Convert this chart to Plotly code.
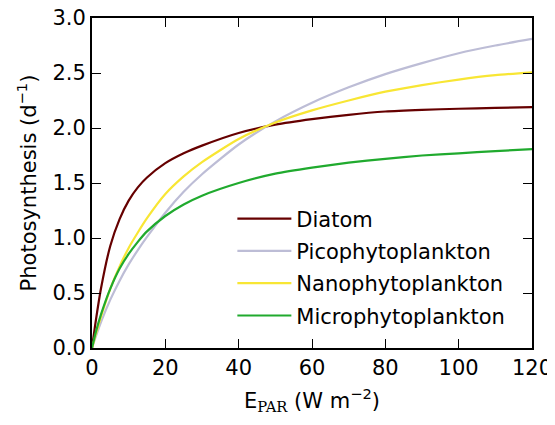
import plotly.graph_objects as go

# Irradiance (W m^-2)
e_par = [0, 1, 2.5, 5, 7.5, 10, 12.5, 15, 20, 25, 30, 40, 50, 60, 70, 80, 90, 100, 110, 120]

# Photosynthesis rates (d^-1)
diatom = [0, 0.24, 0.55, 0.93, 1.17, 1.34, 1.46, 1.55, 1.68, 1.77, 1.84, 1.955, 2.03, 2.08, 2.12, 2.15, 2.165, 2.175, 2.183, 2.19]
pico = [0, 0.10, 0.24, 0.44, 0.61, 0.76, 0.89, 1.01, 1.23, 1.42, 1.58, 1.85, 2.06, 2.23, 2.37, 2.49, 2.59, 2.68, 2.75, 2.81]
nano = [0, 0.12, 0.29, 0.54, 0.74, 0.91, 1.05, 1.18, 1.40, 1.56, 1.69, 1.90, 2.05, 2.16, 2.25, 2.33, 2.39, 2.44, 2.48, 2.506]
micro = [0, 0.14, 0.31, 0.54, 0.72, 0.855, 0.965, 1.06, 1.20, 1.305, 1.385, 1.50, 1.585, 1.64, 1.685, 1.72, 1.75, 1.77, 1.79, 1.808]

names = ["Diatom", "Picophytoplankton", "Nanophytoplankton", "Microphytoplankton"]
series = [diatom, pico, nano, micro]
colors = ["#660000", "#bdbdd6", "#f8e634", "#20aa2e"]

FONT = "DejaVu Sans"
FS = 21

fig = go.Figure()
for name, ys, c in zip(names, series, colors):
    fig.add_trace(go.Scatter(
        x=e_par, y=ys, name=name, mode="lines",
        line=dict(color=c, width=2.2, shape="spline", smoothing=0.6),
        legendgroup=name,
    ))

axis_common = dict(
    showgrid=False, zeroline=False, showline=True, linecolor="black", linewidth=2,
    mirror="ticks", ticks="inside", ticklen=9, tickwidth=1.3, tickcolor="black",
    tickfont=dict(family=FONT, size=FS, color="black"), automargin=False,
    ticklabeloverflow="allow",
)

fig.update_xaxes(
    range=[0, 120], tickvals=[0, 20, 40, 60, 80, 100, 120],
    title=dict(text="E<sub><span style=\"font-family:'DejaVu Serif'\">PAR</span></sub> (W m<sup>−2</sup>)",
               font=dict(family=FONT, size=FS, color="black"), standoff=14),
    **axis_common,
)
fig.update_yaxes(
    range=[0, 3.0], tickvals=[0, 0.5, 1.0, 1.5, 2.0, 2.5, 3.0], tickformat=".1f",
    title=dict(text="Photosynthesis (d<sup>−1</sup>)",
               font=dict(family=FONT, size=FS, color="black"), standoff=10),
    **axis_common,
)

# The page body adds an 8 px margin, so the figure is 8 px smaller on each axis
fig.update_layout(
    width=547, height=417,
    margin=dict(l=84, r=23, t=10, b=77),
    paper_bgcolor="white", plot_bgcolor="white",
    font=dict(family=FONT, size=FS, color="black"),
    showlegend=True,
    legend=dict(x=0.319, y=0.035, xanchor="left", yanchor="bottom",
                bgcolor="rgba(0,0,0,0)", borderwidth=0, itemwidth=54,
                font=dict(family=FONT, size=FS, color="black"),
                tracegroupgap=2),
)

fig.write_html("out.html")
